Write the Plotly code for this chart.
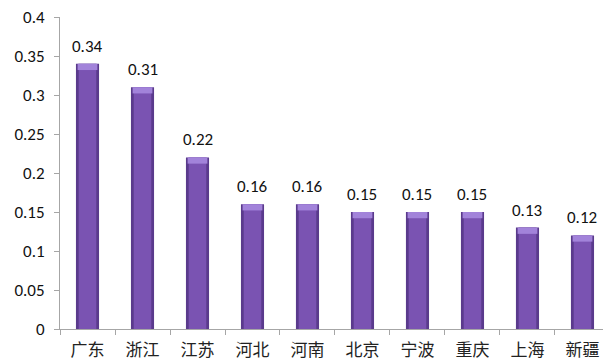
import plotly.graph_objects as go

regions = ["广东", "浙江", "江苏", "河北", "河南", "北京", "宁波", "重庆", "上海", "新疆"]
values = [0.34, 0.31, 0.22, 0.16, 0.16, 0.15, 0.15, 0.15, 0.13, 0.12]
y_ticks = [0, 0.05, 0.1, 0.15, 0.2, 0.25, 0.3, 0.35, 0.4]
y_tick_text = ["0", "0.05", "0.1", "0.15", "0.2", "0.25", "0.3", "0.35", "0.4"]

latin_font = "Carlito, Noto Sans, Liberation Sans, sans-serif"
cjk_font = "Noto Sans CJK SC, sans-serif"

cap = 0.008  # height of the lighter bevelled top of each column

fig = go.Figure()
# dark outer body of the column
fig.add_trace(go.Bar(x=regions, y=values, width=0.42,
                     marker=dict(color="#5A3A8C", line=dict(width=0))))
# lighter inner body, giving a rounded look
fig.add_trace(go.Bar(x=regions, y=values, width=0.32,
                     marker=dict(color="#7A53B2", line=dict(width=0))))
# pale top face
fig.add_trace(go.Bar(x=regions, y=[cap] * len(values),
                     base=[v - cap for v in values], width=0.36,
                     marker=dict(color="#A283DA", line=dict(width=0))))

for r, v in zip(regions, values):
    fig.add_annotation(x=r, y=v, text=f"{v:.2f}", showarrow=False,
                       yanchor="bottom", yshift=5,
                       font=dict(family=latin_font, size=17, color="#111111"))

fig.update_layout(
    width=603, height=360,
    margin=dict(l=60, r=0, t=17, b=31),
    paper_bgcolor="white", plot_bgcolor="white",
    barmode="overlay", showlegend=False,
    xaxis=dict(type="category", range=[-0.5, 9.373],
               showline=True, linecolor="#A6A6A6", linewidth=1,
               ticks="outside", tickson="boundaries", ticklen=5,
               tickcolor="#A6A6A6", showgrid=False, ticklabelstandoff=6,
               tickfont=dict(family=cjk_font, size=17, color="#222222")),
    yaxis=dict(range=[0, 0.4], tickvals=y_ticks, ticktext=y_tick_text,
               showline=True, linecolor="#A6A6A6", linewidth=1,
               ticks="outside", ticklen=5, tickcolor="#A6A6A6",
               showgrid=False, zeroline=False, ticklabelstandoff=6,
               tickfont=dict(family=latin_font, size=17, color="#111111")),
)

fig.write_html("out.html")
